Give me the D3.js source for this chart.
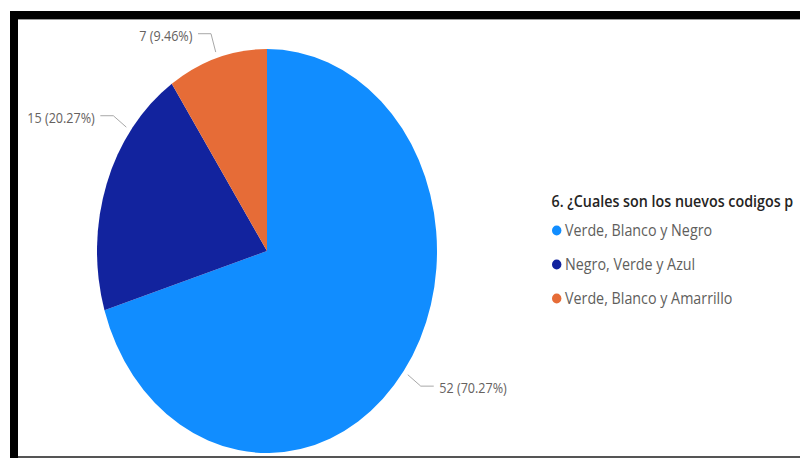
<!DOCTYPE html>
<html>
<head>
<meta charset="utf-8">
<script src="https://cdn.jsdelivr.net/npm/d3@7"></script>
<style>
  html, body { margin: 0; padding: 0; background: #fff; overflow: hidden; }
  svg { display: block; }
</style>
</head>
<body>
<svg id="chart" width="800" height="458"></svg>
<script>
// Survey answers and counts
const categories = ["Verde, Blanco y Negro", "Negro, Verde y Azul", "Verde, Blanco y Amarrillo"];
const counts = [52, 15, 7];
const sliceColors = ["#118DFF", "#12239E", "#E66C37"];
const legendTitle = "6. ¿Cuales son los nuevos codigos p";

const W = 800, H = 458;
const svg = d3.select("#chart");

// Frame: heavy black bars along top and left, thin line at bottom
svg.append("rect").attr("x", 10).attr("y", 11).attr("width", W - 10).attr("height", 8).attr("fill", "#000");
svg.append("rect").attr("x", 10).attr("y", 19).attr("width", W - 10).attr("height", 1).attr("fill", "#9a9a9a");
svg.append("rect").attr("x", 10).attr("y", 11).attr("width", 8).attr("height", H - 11).attr("fill", "#000");
svg.append("rect").attr("x", 18).attr("y", 456).attr("width", W - 18).attr("height", 2).attr("fill", "#555");

// Pie geometry: drawn as a circle and stretched vertically
const cx = 267, cy = 251, rx = 170, ry = 202;
const sy = ry / rx;
const textScale = 1.19;

const total = d3.sum(counts);
const pie = d3.pie().sort(null).value(d => d);
const arcs = pie(counts);
const arc = d3.arc().innerRadius(0).outerRadius(rx);

const pieG = svg.append("g").attr("transform", `translate(${cx},${cy}) scale(1,${sy})`);
pieG.selectAll("path")
  .data(arcs)
  .join("path")
  .attr("d", arc)
  .attr("fill", (d, i) => sliceColors[i]);

// Data labels with leader lines
const fmtPct = d3.format(".2%");
const labelText = d => `${d.value} (${fmtPct(d.value / total)})`;
const minLabelX = 27;
const segLen = 13, gap = 5.5;

function pt(a, k) {
  return [cx + k * rx * Math.sin(a), cy - k * ry * Math.cos(a)];
}

const labelG = svg.append("g");
arcs.forEach((d, i) => {
  let a = (d.startAngle + d.endAngle) / 2;
  const g = labelG.append("g");
  const t = g.append("text")
    .attr("font-family", "'Open Sans', 'Noto Sans', sans-serif")
    .attr("font-size", 12.6)
    .attr("fill", "#66625F")
    .text(labelText(d));
  const w = t.node().getComputedTextLength();
  const right = Math.sin(a) > 0;
  // push left-side labels upward until they fit inside the frame
  if (!right) {
    while (pt(a, 1.125)[0] - segLen - gap - w < minLabelX && a < 2 * Math.PI) a += 0.002;
  }
  const p1 = pt(a, 1.03), p2 = pt(a, 1.125);
  const dir = Math.sin(a) > 0 ? 1 : -1;
  const p3 = [p2[0] + dir * segLen, p2[1]];
  g.insert("polyline", "text")
    .attr("points", [p1, p2, p3].map(p => p.join(",")).join(" "))
    .attr("fill", "none")
    .attr("stroke", "#A8A8A8")
    .attr("stroke-width", 1);
  t.attr("text-anchor", dir > 0 ? "start" : "end")
    .attr("transform", `translate(${p3[0] + dir * gap},${p2[1] + 6.8}) scale(1,${textScale})`);
});

// Legend
const legend = svg.append("g");
legend.append("text")
  .attr("transform", `translate(551.5,206.5) scale(1,${textScale})`)
  .attr("font-family", "'Open Sans', 'Noto Sans', sans-serif")
  .attr("font-weight", 600)
  .attr("font-size", 14.3)
  .attr("fill", "#252423")
  .text(legendTitle);

const rowY = d3.scalePoint().domain(categories).range([230.5, 298.5]);
const items = legend.selectAll("g.item")
  .data(categories)
  .join("g")
  .attr("class", "item")
  .attr("transform", d => `translate(0,${rowY(d)})`);
items.append("ellipse")
  .attr("cx", 556.7).attr("cy", 0)
  .attr("rx", 4.7).attr("ry", 4.7 * 1.05)
  .attr("fill", (d, i) => sliceColors[i]);
items.append("text")
  .attr("transform", `translate(565,5.2) scale(1,${textScale})`)
  .attr("font-family", "'Open Sans', 'Noto Sans', sans-serif")
  .attr("font-size", 14.3)
  .attr("fill", "#605E5C")
  .text(d => d);
</script>
</body>
</html>
